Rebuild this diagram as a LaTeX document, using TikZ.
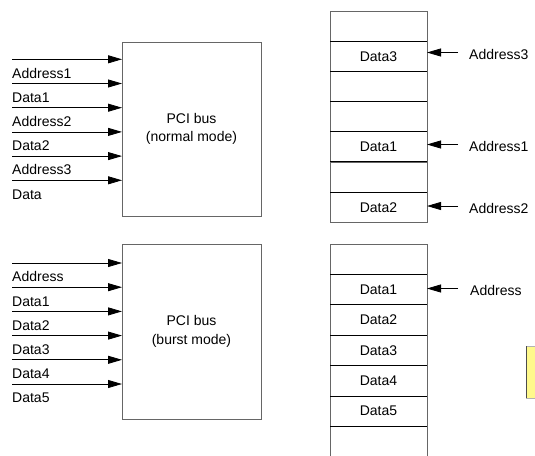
\documentclass[tikz,border=0pt]{standalone}
\usepackage{fontspec}
\setmainfont{Liberation Sans}
\usetikzlibrary{arrows.meta}
\begin{document}
\begin{tikzpicture}[x=1pt,y=-1pt,
  txt/.style={font=\fontsize{14pt}{18.5pt}\selectfont, inner sep=0pt},
  bus/.style={draw=gray!80!black, line width=0.9pt, minimum width=139pt, minimum height=174pt,
    align=center, inner sep=0pt, outer sep=0pt, font=\fontsize{14pt}{18.5pt}\selectfont},
  arr/.style={draw=black, line width=0.8pt, -{Triangle[length=14pt,width=8pt]}},
  cell/.style={draw=gray!80!black, line width=0.9pt, minimum width=97pt, minimum height=30.19pt,
    inner sep=0pt, outer sep=0pt, font=\fontsize{14pt}{18.5pt}\selectfont},
  sepline/.style={draw=black, line width=1pt},
  note/.style={fill=yellow!45, draw=gray!60, line width=0.6pt}]
\useasboundingbox (0,0) rectangle (535,455);
\clip (0,0) rectangle (535,455);

% ---- left: normal mode ----
\node[bus] (b1) at (191.5,129) {PCI bus\\(normal mode)};
\foreach \i in {0,...,5} {
  \coordinate (ta\i) at (12,59.3+24.2*\i);
  \draw[arr] (ta\i) -- (ta\i -| b1.west);
}
\foreach [count=\i from 0] \t in {Address1,Data1,Address2,Data2,Address3,Data}
  \node[txt, anchor=base west] (tl\i) at (12,59.3+24.2*\i+18.8) {\t};

% ---- left: burst mode ----
\node[bus, minimum height=175pt] (b2) at (191.5,331.5) {PCI bus\\(burst mode)};
\foreach \i in {0,...,5} {
  \coordinate (ba\i) at (12,263+24.2*\i);
  \draw[arr] (ba\i) -- (ba\i -| b2.west);
}
\foreach [count=\i from 0] \t in {Address,Data1,Data2,Data3,Data4,Data5}
  \node[txt, anchor=base west] (bl\i) at (12,263+24.2*\i+18.8) {\t};

% ---- right: memory (normal) ----
\foreach [count=\k] \t in {,Data3,,,Data1,,Data2}
  \node[cell] (m\k) at (378.5,11+30.19*\k-15.095) {\t};
\foreach \k in {1,...,6}
  \draw[sepline] (m\k.south west) -- (m\k.south east);

\coordinate (r3) at (458,52.5);
\draw[arr] (r3) -- (r3 -| m2.east);
\node[txt, anchor=west] (l3) at (469,54.5) {Address3};
\coordinate (r1) at (458,144.5);
\draw[arr] (r1) -- (r1 -| m5.east);
\node[txt, anchor=west] (l1) at (469,146.5) {Address1};
\coordinate (r2) at (458,206);
\draw[arr] (r2) -- (r2 -| m7.east);
\node[txt, anchor=west] (l2) at (469,208) {Address2};

% ---- right: memory (burst) ----
\foreach [count=\k] \t in {,Data1,Data2,Data3,Data4,Data5,}
  \node[cell, minimum height=30.4pt] (n\k) at (378.5,244+30.4*\k-15.2) {\t};
\foreach \k in {1,...,6}
  \draw[sepline] (n\k.south west) -- (n\k.south east);

\coordinate (rb) at (458,288.5);
\draw[arr] (rb) -- (rb -| n2.east);
\node[txt, anchor=west] (lb) at (470,290.5) {Address};

% ---- clipped note at right edge ----
\path[note] (545,346) -- (526.5,346) -- (526.5,398) -- (545,398);
\draw[gray!60!black, line width=1.6pt] (526.5,346) -- (526.5,398);
\end{tikzpicture}
\end{document}
